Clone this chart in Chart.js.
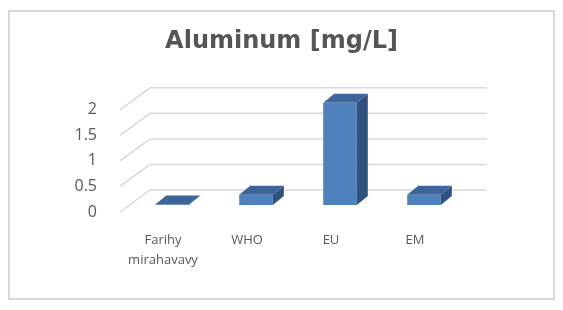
<!DOCTYPE html>
<html>
<head>
<meta charset="utf-8">
<script src="https://cdn.jsdelivr.net/npm/chart.js@4/dist/chart.umd.min.js"></script>
<style>
  html, body { margin: 0; padding: 0; background: #fff; }
  canvas { display: block; }
</style>
</head>
<body>
<canvas id="alChart" width="563" height="310"></canvas>
<script>
// chart data
const categories = [['Farihy', 'mirahavavy'], 'WHO', 'EU', 'EM'];
const aluminum = [0.01, 0.2, 2, 0.2];
const yTicks = [0, 0.5, 1, 1.5, 2];

// 3d look settings
const depthX = 11, depthY = 9;        // bar depth
const wallX = 30, wallY = 22;         // back wall offset
const frontColor = '#4f81bd';
const topColor = '#3c6699';
const sideColor = '#30527f';
const gridColor = '#d9d9d9';

// frame + back wall grid lines
const wallPlugin = {
  id: 'wall',
  beforeDraw(chart) {
    const ctx = chart.ctx;
    ctx.save();
    ctx.fillStyle = '#fff';
    ctx.fillRect(0, 0, chart.width, chart.height);
    ctx.strokeStyle = gridColor;
    ctx.lineWidth = 2;
    ctx.strokeRect(9, 11, 545, 288);
    ctx.restore();
  },
  beforeDatasetsDraw(chart) {
    const ctx = chart.ctx;
    const y = chart.scales.y;
    const area = chart.chartArea;
    ctx.save();
    ctx.strokeStyle = gridColor;
    ctx.lineWidth = 1.5;
    yTicks.forEach(v => {
      const py = y.getPixelForValue(v);
      ctx.beginPath();
      ctx.moveTo(area.left - 10, py + 7);
      ctx.lineTo(area.left - 10 + wallX, py + 7 - wallY);
      ctx.lineTo(area.right + 21, py + 7 - wallY);
      ctx.stroke();
    });
    ctx.restore();
  }
};

// top and side faces of each bar
const boxPlugin = {
  id: 'box',
  afterDatasetsDraw(chart) {
    const ctx = chart.ctx;
    ctx.save();
    chart.getDatasetMeta(0).data.forEach(bar => {
      const l = bar.x - bar.width / 2;
      const r = bar.x + bar.width / 2;
      const t = bar.y;
      const b = bar.base;
      ctx.fillStyle = topColor;
      ctx.beginPath();
      ctx.moveTo(l, t);
      ctx.lineTo(l + depthX, t - depthY);
      ctx.lineTo(r + depthX, t - depthY);
      ctx.lineTo(r, t);
      ctx.closePath();
      ctx.fill();
      ctx.fillStyle = sideColor;
      ctx.beginPath();
      ctx.moveTo(r, t);
      ctx.lineTo(r + depthX, t - depthY);
      ctx.lineTo(r + depthX, b - depthY);
      ctx.lineTo(r, b);
      ctx.closePath();
      ctx.fill();
    });
    ctx.restore();
  }
};

new Chart(document.getElementById('alChart'), {
  type: 'bar',
  data: {
    labels: categories,
    datasets: [{
      label: 'Aluminum [mg/L]',
      data: aluminum,
      backgroundColor: frontColor,
      borderWidth: 0,
      categoryPercentage: 1,
      barPercentage: 0.4
    }]
  },
  options: {
    responsive: false,
    animation: false,
    layout: { padding: 0 },
    plugins: {
      legend: { display: false },
      tooltip: { enabled: false },
      title: {
        display: true,
        text: 'Aluminum [mg/L]',
        color: '#555555',
        font: { family: 'DejaVu Sans', size: 24, weight: 'bold' },
        padding: { top: 27, bottom: 47 }
      }
    },
    scales: {
      x: {
        grid: { display: false, drawTicks: false },
        border: { display: false },
        ticks: {
          color: '#595959',
          font: { family: 'Open Sans', size: 13, lineHeight: 1.5 },
          padding: 26,
          labelOffset: -9,
          maxRotation: 0,
          autoSkip: false
        },
        afterFit(scale) { scale.height = 105; }
      },
      y: {
        min: 0,
        max: 2,
        grid: { display: false, drawTicks: false },
        border: { display: false },
        ticks: {
          stepSize: 0.5,
          color: '#595959',
          font: { family: 'Open Sans', size: 16 },
          padding: 33,
          labelOffset: 7,
          callback: v => String(v)
        },
        afterFit(scale) { scale.width = 130; }
      },
      // empty right axis, only keeps room for the back wall
      yRight: {
        position: 'right',
        min: 0,
        max: 2,
        grid: { display: false, drawTicks: false },
        border: { display: false },
        ticks: { display: false },
        afterFit(scale) { scale.width = 97; }
      }
    }
  },
  plugins: [wallPlugin, boxPlugin]
});
</script>
</body>
</html>
